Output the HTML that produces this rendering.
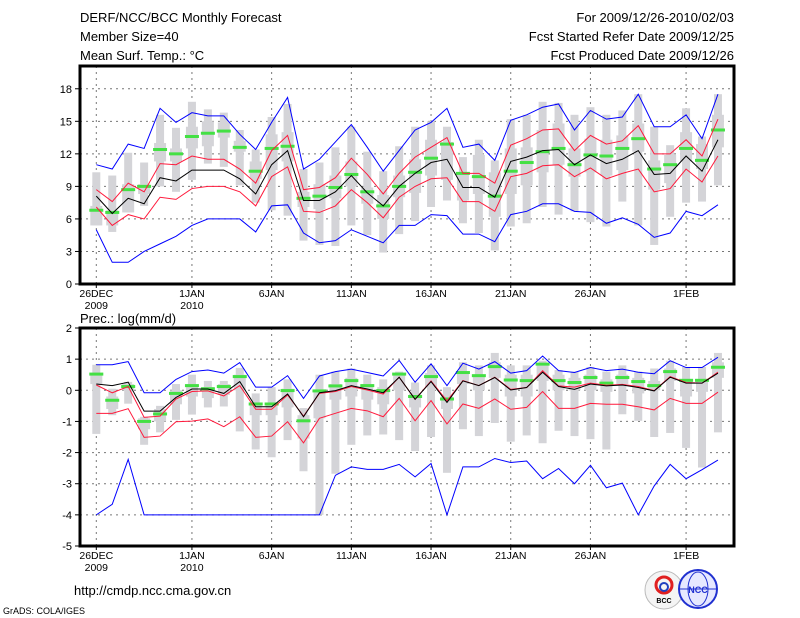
<!DOCTYPE html>
<html><head><meta charset="utf-8"><style>
body{margin:0;background:#fff;width:800px;height:618px;overflow:hidden}
svg{display:block}
text{font-family:"Liberation Sans","DejaVu Sans",sans-serif;fill:#000}
</style></head><body>
<svg id="c" width="800" height="618" xmlns="http://www.w3.org/2000/svg"></svg>
<script>
const days=["26DEC","1JAN","6JAN","11JAN","16JAN","21JAN","26JAN","1FEB"];
const dayIdx=[0,6,11,16,21,26,31,37];
const yearLbl=["2009","2010"];
const tTicks=[0,3,6,9,12,15,18];
const pTicks=[-5,-4,-3,-2,-1,0,1,2];
// Temperature panel
const tBlueHi=[11.0,10.6,12.9,12.5,16.2,14.9,15.8,15.5,15.5,13.8,12.4,14.9,17.2,10.6,11.5,13.1,14.7,12.6,10.4,12.3,14.2,14.9,16.2,12.6,12.9,11.4,15.1,15.6,16.3,16.6,14.2,16.0,15.2,15.4,17.5,14.5,14.5,15.6,13.4,17.5];
const tRedHi=[8.7,7.6,9.3,8.5,11.1,11.0,11.8,11.5,11.5,10.6,9.3,12.3,13.7,8.7,8.9,9.8,11.6,10.1,8.3,10.2,11.7,12.6,13.5,10.2,10.2,9.3,12.8,13.4,14.2,14.3,12.3,13.7,12.9,13.2,14.6,12.0,12.0,13.3,11.8,15.2];
const tMean=[8.1,6.5,7.9,7.4,9.8,9.5,10.5,10.5,10.5,9.7,8.3,11.0,12.3,7.7,7.7,8.5,10.0,8.4,7.2,9.0,10.2,11.2,11.5,8.9,8.9,8.0,11.3,11.7,12.3,12.4,11.0,11.9,11.1,11.5,12.3,10.1,10.2,11.8,10.4,13.3];
const tRedLo=[7.1,5.4,6.4,6.0,8.0,7.8,8.8,9.0,9.0,8.5,7.2,9.9,10.8,6.7,6.6,7.2,8.7,7.5,6.1,8.0,9.0,9.7,9.8,7.6,7.6,6.7,9.9,10.2,10.9,11.0,9.9,10.7,9.7,10.2,10.6,8.5,8.8,10.6,9.4,11.8];
const tBlueLo=[5.0,2.0,2.0,3.0,3.7,4.4,5.4,6.0,6.0,6.0,4.8,7.2,7.3,4.7,3.8,4.0,5.0,4.4,3.8,5.4,5.4,6.4,6.3,4.6,4.6,3.9,6.4,6.7,7.4,7.4,6.7,6.6,5.6,6.1,5.5,4.3,4.7,6.7,6.3,7.3];
const tGreen=[6.8,6.6,8.7,9.0,12.4,12.0,13.6,13.9,14.1,12.6,10.4,12.5,12.7,7.9,8.1,8.9,10.1,8.5,7.2,9.0,10.3,11.6,12.9,10.2,9.9,8.1,10.4,11.2,12.2,12.5,11.0,11.9,11.8,12.5,13.4,10.6,11.0,12.5,11.4,14.2];
const tMax=[10.3,10.0,12.1,11.2,15.6,14.4,16.8,16.1,15.8,14.2,12.4,15.4,16.6,10.6,11.2,12.6,14.5,12.2,10.4,12.7,14.5,15.0,14.5,11.7,13.3,11.4,15.2,15.6,16.8,16.7,15.6,16.3,15.6,16.0,17.5,14.5,12.8,16.2,13.6,17.5];
const tMin=[5.4,4.8,6.6,7.2,9.0,8.5,9.6,11.1,10.8,9.1,7.5,6.8,6.3,4.0,3.6,3.5,5.4,4.5,2.9,4.6,5.8,7.1,7.7,5.6,4.7,3.1,5.3,5.6,7.1,6.4,6.7,5.7,5.3,7.6,5.4,3.6,6.2,7.5,7.6,9.1];
const tQ3=[7.2,6.8,9.2,9.2,13.0,12.5,14.5,15.0,14.9,13.2,11.3,13.8,14.0,8.5,9.2,10.0,11.3,8.9,8.2,10.0,11.5,13.3,13.1,10.3,11.9,10.3,12.5,12.6,14.2,14.8,12.5,13.4,13.3,13.7,14.8,11.4,11.9,14.0,12.9,15.6];
const tQ1=[5.4,5.4,6.6,8.3,11.3,11.3,12.5,12.7,13.5,12.2,9.7,10.5,11.3,7.1,6.9,7.9,9.0,7.4,6.0,8.0,8.4,10.0,9.6,7.7,8.3,6.2,8.3,9.1,10.3,11.0,9.9,10.3,10.0,10.5,12.2,8.7,9.3,11.3,10.6,12.6];
// Precip panel
const pBlueHi=[0.82,0.82,0.92,-0.08,-0.08,0.35,0.6,0.65,0.55,0.89,0.1,0.1,0.47,-0.26,0.46,0.6,0.68,0.57,0.46,0.96,0.26,0.85,0.15,0.87,0.68,0.92,0.55,0.63,1.1,0.63,0.57,0.73,0.63,0.68,0.58,0.53,0.95,0.73,0.73,1.06];
const pRedHi=[0.17,-0.08,0.12,-0.87,-0.83,-0.28,-0.04,-0.02,-0.18,0.15,-0.61,-0.61,-0.15,-0.83,-0.1,-0.04,0.12,0.01,-0.12,0.42,-0.29,0.3,-0.34,0.31,0.15,0.42,0.03,0.09,0.63,0.14,0.1,0.23,0.16,0.19,0.12,-0.01,0.44,0.25,0.23,0.58];
const pMean=[0.2,0.15,0.26,-0.67,-0.67,-0.23,0.04,0.04,-0.1,0.28,-0.53,-0.53,-0.12,-0.85,-0.08,-0.01,0.15,0.04,-0.08,0.42,-0.29,0.28,-0.39,0.3,0.15,0.41,0.01,0.09,0.58,0.12,0.03,0.2,0.14,0.17,0.09,-0.02,0.42,0.23,0.23,0.55];
const pRedLo=[-0.74,-0.74,-0.59,-1.51,-1.47,-1.01,-0.99,-0.92,-1.17,-0.85,-1.51,-1.47,-1.01,-1.69,-0.9,-0.74,-0.58,-0.66,-0.85,-0.26,-0.98,-0.33,-1.08,-0.44,-0.58,-0.28,-0.61,-0.55,-0.04,-0.58,-0.58,-0.42,-0.45,-0.45,-0.53,-0.63,-0.26,-0.42,-0.42,-0.06];
const pBlueLo=[-4.0,-3.66,-2.22,-4,-4,-4,-4,-4,-4,-4,-4,-4,-4,-4,-4,-2.73,-2.46,-2.54,-2.54,-2.38,-2.78,-2.35,-4.0,-2.46,-2.46,-2.19,-2.32,-2.27,-2.84,-2.51,-3.0,-2.41,-3.13,-2.98,-4.0,-3.07,-2.38,-2.84,-2.55,-2.24];
const pGreen=[0.52,-0.32,0.12,-1.0,-0.76,-0.1,0.15,0.05,0.12,0.44,-0.44,-0.44,-0.01,-0.98,-0.02,0.14,0.31,0.15,-0.01,0.52,-0.2,0.44,-0.28,0.57,0.47,0.76,0.33,0.31,0.84,0.31,0.25,0.41,0.23,0.41,0.28,0.15,0.6,0.32,0.32,0.74];
const pMax=[0.82,0.05,0.27,-0.85,-0.5,0.2,0.5,0.3,0.3,0.72,-0.1,0.1,0.35,-0.57,0.5,0.6,0.7,0.5,0.35,0.6,0.25,0.8,0.1,0.9,0.8,1.2,0.8,0.8,0.95,0.65,0.6,0.75,0.6,0.8,0.6,0.7,0.95,0.75,0.75,1.2];
const pMin=[-1.4,-0.8,-0.43,-1.75,-1.35,-0.95,-0.78,-0.55,-0.52,-1.32,-1.9,-2.15,-1.6,-2.6,-4.0,-2.68,-1.75,-1.45,-1.42,-1.6,-1.95,-1.5,-2.65,-1.25,-1.47,-1.05,-1.65,-1.45,-1.7,-1.3,-1.47,-1.57,-1.9,-0.77,-0.98,-1.5,-1.37,-1.85,-2.48,-1.35];
const pQ3=[0.55,-0.2,0.2,-0.9,-0.6,0.0,0.2,0.1,0.2,0.5,-0.4,-0.4,0.05,-0.8,0.0,0.2,0.4,0.2,0.1,0.5,-0.1,0.55,-0.2,0.6,0.5,0.9,0.5,0.5,0.8,0.5,0.4,0.5,0.35,0.5,0.4,0.3,0.7,0.3,0.3,0.9];
const pQ1=[0.2,-0.6,0.0,-1.25,-1.0,-0.45,-0.2,-0.25,-0.15,0.0,-0.8,-0.8,-0.55,-1.55,-0.9,-0.3,-0.2,-0.3,-0.45,0.0,-0.55,0.1,-0.6,0.2,0.0,0.4,-0.2,-0.2,0.3,0.0,0.0,0.0,-0.05,0.2,-0.1,0.0,0.3,-0.2,-0.05,0.4];

const NS="http://www.w3.org/2000/svg";
const svg=document.getElementById('c');
function el(tag,attrs,parent){const e=document.createElementNS(NS,tag);for(const k in attrs)e.setAttribute(k,attrs[k]);(parent||svg).appendChild(e);return e;}
const X0=80,X1=734;
const xs=i=>96.3+15.94*i;

function panel(name,top,bot,vmin,vmax,ticks,S){
  const g=el('g',{});
  
  
  const ys=v=>bot-(v-vmin)/(vmax-vmin)*(bot-top);
  // grid
  ticks.forEach(t=>{if(t>vmin&&t<vmax){const l=el('line',{x1:X0,x2:X1,y1:ys(t),y2:ys(t),stroke:'#777','stroke-dasharray':'2,4','stroke-width':1},g);
    }});
  dayIdx.forEach(d=>{const l=el('line',{x1:xs(d),x2:xs(d),y1:top,y2:bot,stroke:'#777','stroke-dasharray':'2,4','stroke-width':1},g);
    });
  // bars
  S.max.forEach((v,i)=>{
    const r=el('rect',{x:xs(i)-4,y:ys(v),width:8,height:ys(S.min[i])-ys(v),fill:'#d4d4d8'},g);
    
    const q=el('rect',{x:xs(i)-6,y:ys(S.q3[i]),width:12,height:ys(S.q1[i])-ys(S.q3[i]),fill:'#d4d4d8'},g);
    
  });
  S.green.forEach((v,i)=>{
    const r=el('rect',{x:xs(i)-7,y:ys(v)-1.5,width:14,height:3,fill:'#44e044'},g);
    
  });
  const lines=[[S.blueHi,'#0000ff','upper-bound-line'],[S.blueLo,'#0000ff','lower-bound-line'],[S.redLo,'#ff1a3c','lower-spread-line'],[S.redHi,'#ff1a3c','upper-spread-line'],[S.mean,'#000','mean-line']];
  lines.forEach(([arr,c,n])=>{
    const p=el('polyline',{points:arr.map((v,i)=>xs(i)+','+ys(v)).join(' '),fill:'none',stroke:c,'stroke-width':1},g);
    
  });
  // frame
  const f=el('rect',{x:X0,y:top,width:X1-X0,height:bot-top,fill:'none',stroke:'#000','stroke-width':3},g);
  
  ticks.forEach(t=>{
    el('line',{x1:X0-5,x2:X0,y1:ys(t),y2:ys(t),stroke:'#000'},g);
    const tx=el('text',{x:X0-8,y:ys(t)+4,'text-anchor':'end','font-size':11},g);
    tx.textContent=t;
    
  });
  days.forEach((d,k)=>{
    el('line',{x1:xs(dayIdx[k]),x2:xs(dayIdx[k]),y1:bot,y2:bot+4,stroke:'#000'},g);
    const tx=el('text',{x:xs(dayIdx[k]),y:bot+13,'text-anchor':'middle','font-size':10.5},g);
    tx.textContent=d;
    
  });
  yearLbl.forEach((y,k)=>{
    const tx=el('text',{x:xs(dayIdx[k]),y:bot+25,'text-anchor':'middle','font-size':10.5},g);
    tx.textContent=y;
    
  });
}
panel('temperature-panel',66,284,0,20.1,tTicks,{blueHi:tBlueHi,redHi:tRedHi,mean:tMean,redLo:tRedLo,blueLo:tBlueLo,green:tGreen,max:tMax,min:tMin,q3:tQ3,q1:tQ1});
panel('precipitation-panel',328,546,-5,2,pTicks,{blueHi:pBlueHi,redHi:pRedHi,mean:pMean,redLo:pRedLo,blueLo:pBlueLo,green:pGreen,max:pMax,min:pMin,q3:pQ3,q1:pQ1});

function txt(s,x,y,size,anchor,name){const t=el('text',{x:x,y:y,'font-size':size,'text-anchor':anchor||'start'});t.textContent=s;
  return t;}
txt('DERF/NCC/BCC Monthly Forecast',80,22,13,'start','chart-title');
txt('Member Size=40',80,41,13,'start','member-size');
txt('Mean Surf. Temp.: °C',80,60,13,'start','temp-panel-title');
txt('For 2009/12/26-2010/02/03',734,22,13,'end','forecast-period');
txt('Fcst Started Refer Date 2009/12/25',734,41,13,'end','start-date');
txt('Fcst Produced Date 2009/12/26',734,60,13,'end','produced-date');
txt('Prec.: log(mm/d)',80,323,13,'start','precip-panel-title');
txt('http://cmdp.ncc.cma.gov.cn',74,595,13,'start','source-url');
txt('GrADS: COLA/IGES',3,614,9,'start','grads-credit');
// logos
const l1=el('g',{});
el('circle',{cx:664,cy:590,r:19,fill:'#f4f4f4',stroke:'#bbb'},l1);
el('circle',{cx:664,cy:585,r:8,fill:'none',stroke:'#e02020','stroke-width':3},l1);
el('circle',{cx:664,cy:587,r:4,fill:'none',stroke:'#2040c0','stroke-width':2},l1);
const bt=el('text',{x:664,y:603,'font-size':7,'text-anchor':'middle','font-weight':'bold'},l1);bt.textContent='BCC';
const l2=el('g',{});
el('circle',{cx:698,cy:589,r:19,fill:'#e6e8ff',stroke:'#2030d0','stroke-width':2},l2);
el('ellipse',{cx:698,cy:589,rx:10,ry:17,fill:'none',stroke:'#2030d0'},l2);
el('line',{x1:679,x2:717,y1:589,y2:589,stroke:'#2030d0'},l2);
const nt=el('text',{x:698,y:593,'font-size':9,'text-anchor':'middle','font-weight':'bold',fill:'#2030d0'},l2);nt.textContent='NCC';nt.setAttribute('fill','#2030d0');nt.style.fill='#2030d0';
</script>
</body></html>
